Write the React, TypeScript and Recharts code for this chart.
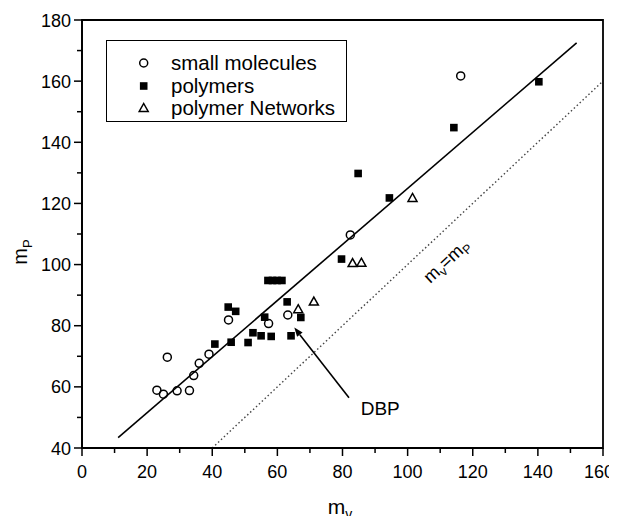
import {
  ScatterChart,
  Scatter,
  XAxis,
  YAxis,
  ReferenceLine,
  ReferenceArea,
  ReferenceDot,
} from "recharts";

// m_v (x) vs m_P (y)
const smallMolecules = [
  [23.0, 58.9], [25.0, 57.6], [26.2, 69.7], [29.2, 58.7], [33.0, 58.8],
  [34.3, 63.7], [36.0, 67.7], [39.0, 70.7], [45.0, 81.9], [57.3, 80.7],
  [63.2, 83.5], [82.4, 109.7], [116.3, 161.7],
];
const polymers = [
  [40.8, 74.0], [44.9, 86.1], [47.2, 84.7], [45.8, 74.6], [51.0, 74.5],
  [52.5, 77.7], [55.0, 76.7], [58.1, 76.5], [56.1, 82.8], [57.1, 94.8],
  [58.5, 94.8], [59.9, 94.8], [61.4, 94.8], [63.0, 87.8], [67.2, 82.7],
  [64.2, 76.7], [79.7, 101.8], [84.8, 129.8], [94.4, 121.8], [114.2, 144.8],
  [140.3, 159.8],
];
const polymerNetworks = [
  [66.4, 85.4], [71.2, 87.9], [83.1, 100.5], [85.8, 100.6], [101.5, 121.8],
];

// linear fit and the m_v = m_P diagonal
const fitLine = [
  { x: 11.1, y: 43.4 },
  { x: 151.9, y: 172.5 },
];
const diagonal = [
  { x: 40, y: 40 },
  { x: 160, y: 160 },
];
const dbpArrow = [
  { x: 82.0, y: 56.4 },
  { x: 65.2, y: 79.4 },
];
const dbpLabel = { x: 91.6, y: 53.0, text: "DBP" };
const diagLabel = { x: 111.9, y: 101.2 };

const xTicks = [0, 10, 20, 30, 40, 50, 60, 70, 80, 90, 100, 110, 120, 130, 140, 150, 160];
const yTicks = [40, 50, 60, 70, 80, 90, 100, 110, 120, 130, 140, 150, 160, 170, 180];

const legendItems = [
  { name: "small molecules", kind: "circle" },
  { name: "polymers", kind: "square" },
  { name: "polymer Networks", kind: "triangle" },
];

const FONT = "'Liberation Sans', Arial, sans-serif";

const toPoints = (arr: number[][]) => arr.map(([x, y]) => ({ x, y }));

function Marker({ kind, cx, cy }: { kind: string; cx: number; cy: number }) {
  if (kind === "circle")
    return <circle cx={cx} cy={cy} r={4} fill="none" stroke="#000" strokeWidth={1.5} />;
  if (kind === "square")
    return <rect x={cx - 3.8} y={cy - 3.8} width={7.6} height={7.6} fill="#000" />;
  return (
    <polygon
      points={`${cx},${cy - 4.5} ${cx + 4.5},${cy + 3.5} ${cx - 4.5},${cy + 3.5}`}
      fill="none"
      stroke="#000"
      strokeWidth={1.5}
    />
  );
}

function XTick(props: any) {
  const { x, y, payload } = props;
  const v = Number(payload.value);
  const major = v % 20 === 0;
  const last = v >= 159;
  return (
    <g>
      <line x1={x} y1={y} x2={x} y2={y + (major ? 8 : 5)} stroke="#000" strokeWidth={1.5} />
      {major && (
        <text
          x={last ? x + 11 : x}
          y={y + 30}
          textAnchor={last ? "end" : "middle"}
          fontSize={18}
          fontFamily={FONT}
          fill="#000"
        >
          {v}
        </text>
      )}
    </g>
  );
}

function YTick(props: any) {
  const { x, y, payload } = props;
  const major = payload.value % 20 === 0;
  return (
    <g>
      <line x1={x} y1={y} x2={x - (major ? 8 : 5)} y2={y} stroke="#000" strokeWidth={1.5} />
      {major && (
        <text x={x - 11} y={y + 6.5} textAnchor="end" fontSize={18} fontFamily={FONT} fill="#000">
          {payload.value}
        </text>
      )}
    </g>
  );
}

function ArrowShape(props: any) {
  const { x1, y1, x2, y2 } = props;
  const a = Math.atan2(y2 - y1, x2 - x1);
  const len = 9;
  const w = 3.5;
  const bx = x2 - len * Math.cos(a);
  const by = y2 - len * Math.sin(a);
  const px = -Math.sin(a) * w;
  const py = Math.cos(a) * w;
  return (
    <g>
      <line x1={x1} y1={y1} x2={bx} y2={by} stroke="#000" strokeWidth={1.6} />
      <polygon points={`${x2},${y2} ${bx + px},${by + py} ${bx - px},${by - py}`} fill="#000" />
    </g>
  );
}

export default function App() {
  return (
    <div style={{ position: "relative", width: 617, height: 524, margin: -8, background: "#fff", overflow: "hidden" }}>
      <ScatterChart width={617} height={524} margin={{ top: 20, right: 14, left: 32, bottom: 36 }}>
        <XAxis
          type="number"
          dataKey="x"
          domain={[0, 160]}
          ticks={xTicks}
          interval={0}
          tickSize={0}
          tickMargin={0}
          tickLine={false}
          tick={<XTick />}
          height={40}
          axisLine={{ stroke: "#000", strokeWidth: 1.8 }}
          label={{
            content: () => (
              <text x={340} y={514} textAnchor="middle" fontSize={21} fontFamily={FONT} fill="#000">
                m<tspan fontSize={14} dy={5}>v</tspan>
              </text>
            ),
          }}
        />
        <YAxis
          type="number"
          dataKey="y"
          domain={[40, 180]}
          ticks={yTicks}
          interval={0}
          tickSize={0}
          tickMargin={0}
          tickLine={false}
          tick={<YTick />}
          width={50}
          axisLine={{ stroke: "#000", strokeWidth: 1.8 }}
          label={{
            content: () => (
              <text
                x={27}
                y={252}
                transform="rotate(-90 27 252)"
                textAnchor="middle"
                fontSize={20}
                fontFamily={FONT}
                fill="#000"
              >
                m<tspan fontSize={13} dy={5}>P</tspan>
              </text>
            ),
          }}
        />
        <ReferenceArea x1={0} x2={160} y1={40} y2={180} fill="none" stroke="#000" strokeWidth={1.8} fillOpacity={0} />
        <ReferenceLine segment={diagonal} stroke="#444" strokeWidth={1.4} strokeDasharray="1.5 2.5" />
        <ReferenceLine segment={fitLine} stroke="#000" strokeWidth={1.6} />
        <ReferenceLine segment={dbpArrow} shape={<ArrowShape />} />
        <ReferenceDot
          x={dbpLabel.x}
          y={dbpLabel.y}
          r={0}
          shape={(p: any) => (
            <text x={p.cx} y={p.cy + 7} textAnchor="middle" fontSize={19} fontFamily={FONT} fill="#000">
              {dbpLabel.text}
            </text>
          )}
        />
        <ReferenceDot
          x={diagLabel.x}
          y={diagLabel.y}
          r={0}
          shape={(p: any) => (
            <text
              x={p.cx}
              y={p.cy + 6}
              transform={`rotate(-43 ${p.cx} ${p.cy})`}
              textAnchor="middle"
              fontSize={18}
              fontFamily={FONT}
              fill="#000"
            >
              m<tspan fontSize={12.5} dy={4}>v</tspan>
              <tspan dy={-4}>=m</tspan>
              <tspan fontSize={12.5} dy={4}>P</tspan>
            </text>
          )}
        />
        <Scatter
          data={toPoints(smallMolecules)}
          isAnimationActive={false}
          shape={(p: any) => <Marker kind="circle" cx={p.cx} cy={p.cy} />}
        />
        <Scatter
          data={toPoints(polymers)}
          isAnimationActive={false}
          shape={(p: any) => <Marker kind="square" cx={p.cx} cy={p.cy} />}
        />
        <Scatter
          data={toPoints(polymerNetworks)}
          isAnimationActive={false}
          shape={(p: any) => <Marker kind="triangle" cx={p.cx} cy={p.cy} />}
        />
      </ScatterChart>
      {/* legend box */}
      <div
        style={{
          position: "absolute",
          left: 106,
          top: 40,
          width: 239,
          height: 80,
          border: "1.5px solid #000",
          background: "#fff",
          fontFamily: FONT,
          fontSize: 20.5,
        }}
      >
        {legendItems.map((item, i) => (
          <div
            key={item.name}
            style={{ position: "absolute", left: 0, top: 11 + i * 22.5, height: 22, display: "flex", alignItems: "center" }}
          >
            <svg width={60} height={22} style={{ display: "block" }}>
              <Marker kind={item.kind} cx={36.7} cy={11} />
            </svg>
            <span style={{ marginLeft: 4, lineHeight: "22px", whiteSpace: "nowrap" }}>{item.name}</span>
          </div>
        ))}
      </div>
    </div>
  );
}
